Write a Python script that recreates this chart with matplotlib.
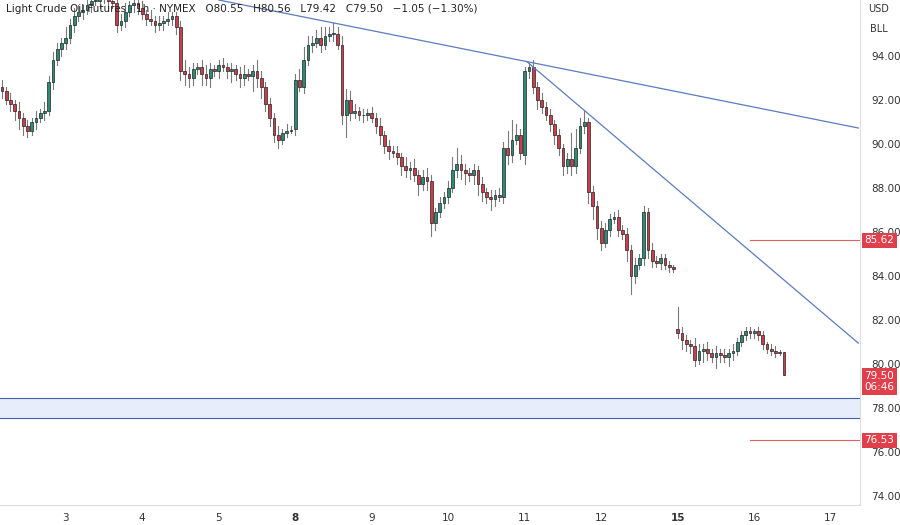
import matplotlib
matplotlib.use("Agg")
import matplotlib.pyplot as plt
from matplotlib.patches import Rectangle

day_labels = ["", "3", "4", "5", "8", "9", "10", "11", "12", "15", "16"]
closes = [
    [92.4, 92.0, 91.8, 91.5, 91.2, 90.8, 90.6, 91.0, 91.2, 91.4, 91.5, 92.8, 93.8, 94.3, 94.6],
    [94.8, 95.4, 95.8, 96.0, 96.1, 96.3, 96.5, 96.5, 96.6, 96.8, 96.5, 96.4, 95.4, 95.6, 96.0, 96.3, 96.4, 96.2],
    [95.9, 95.7, 95.6, 95.4, 95.5, 95.6, 95.7, 95.8, 95.3, 93.3, 93.2, 93.0, 93.4, 93.5, 93.2, 93.0, 93.4, 93.3],
    [93.6, 93.5, 93.3, 93.4, 93.2, 93.0, 93.2, 93.1, 93.3, 93.0, 92.6, 91.8, 91.2, 90.4, 90.2, 90.5, 90.6, 90.6],
    [92.9, 92.6, 93.8, 94.5, 94.6, 94.8, 94.5, 94.9, 95.0, 95.0, 94.5, 91.3, 92.0, 91.4, 91.5, 91.3, 91.3, 91.4],
    [91.2, 90.8, 90.4, 89.9, 89.7, 89.6, 89.4, 89.0, 88.8, 88.9, 88.6, 88.2, 88.5, 88.3, 86.4, 86.9, 87.3, 87.6],
    [88.0, 88.8, 89.1, 88.8, 88.7, 88.6, 88.8, 88.2, 87.8, 87.6, 87.5, 87.7, 87.6, 89.8, 89.5, 90.2, 90.4, 89.6],
    [93.3, 93.5, 92.6, 92.0, 91.7, 91.3, 90.9, 90.4, 89.8, 89.0, 89.3, 89.0, 89.8, 90.8, 91.0, 87.8, 87.2, 86.2],
    [85.5, 86.1, 86.6, 86.7, 86.1, 85.9, 85.2, 84.0, 84.5, 84.8, 86.9, 85.2, 84.7, 84.6, 84.8, 84.5, 84.4, 84.3],
    [81.4, 81.1, 80.9, 80.8, 80.2, 80.6, 80.7, 80.5, 80.3, 80.5, 80.4, 80.3, 80.5, 80.6, 81.0, 81.3, 81.5, 81.4],
    [81.5, 81.3, 80.9, 80.7, 80.6, 80.5, 80.55, 79.50],
]
first_open = [92.6, None, None, None, 90.7, None, None, 89.5, None, 81.6, None]
hi_ext = [
    [0.3, 0.2, 0.3, 0.2, 0.4, 0.2, 0.3, 0.2, 0.3, 0.2, 0.4, 0.3, 0.4, 0.3, 0.2],
    [0.5, 0.3, 0.4, 0.3, 0.2, 0.3, 0.2, 0.3, 0.4, 0.3, 0.2, 0.3, 0.2, 0.3, 0.4, 0.2, 0.3, 0.2],
    [0.3, 0.2, 0.4, 0.2, 0.3, 0.2, 0.3, 0.2, 0.2, 0.3, 0.5, 0.3, 0.3, 0.2, 0.3, 0.4, 0.3, 0.2],
    [0.2, 0.3, 0.2, 0.3, 0.2, 0.3, 0.4, 0.2, 0.3, 0.5, 0.3, 0.2, 0.3, 0.2, 0.4, 0.2, 0.3, 0.2],
    [0.3, 0.5, 0.6, 0.4, 0.3, 0.4, 0.5, 0.4, 0.3, 0.5, 0.3, 0.4, 0.5, 0.4, 0.3, 0.2, 0.3, 0.2],
    [0.3, 0.2, 0.4, 0.2, 0.3, 0.2, 0.3, 0.2, 0.4, 0.3, 0.4, 0.2, 0.3, 0.4, 0.3, 0.2, 0.3, 0.2],
    [0.3, 0.6, 0.7, 0.4, 0.3, 0.2, 0.3, 0.2, 0.3, 0.2, 0.3, 0.2, 0.3, 0.3, 0.8, 0.9, 0.5, 0.3],
    [0.2, 0.2, 0.3, 0.2, 0.3, 0.2, 0.3, 0.2, 0.3, 0.2, 0.3, 1.2, 0.9, 0.4, 0.5, 0.2, 0.3, 0.2],
    [0.3, 0.3, 0.2, 0.2, 0.3, 0.2, 0.3, 0.2, 0.3, 0.2, 0.3, 0.2, 0.3, 0.2, 0.2, 0.2, 0.2, 0.1],
    [1.0, 0.3, 0.2, 0.2, 0.4, 0.3, 0.2, 0.3, 0.2, 0.3, 0.2, 0.3, 0.2, 0.3, 0.2, 0.2, 0.2, 0.2],
    [0.1, 0.2, 0.2, 0.1, 0.2, 0.2, 0.1, 0.01],
]
lo_ext = [
    [0.3, 0.2, 0.3, 0.4, 0.5, 0.4, 0.3, 0.2, 0.3, 0.2, 0.3, 0.2, 0.3, 0.2, 0.3],
    [0.3, 0.2, 0.3, 0.2, 0.3, 0.2, 0.3, 0.2, 0.3, 0.2, 0.3, 0.2, 0.3, 0.2, 0.3, 0.2, 0.3, 0.3],
    [0.2, 0.3, 0.2, 0.3, 0.2, 0.3, 0.2, 0.3, 0.3, 0.4, 0.5, 0.4, 0.3, 0.2, 0.5, 0.3, 0.4, 0.2],
    [0.3, 0.2, 0.3, 0.5, 0.3, 0.4, 0.3, 0.2, 0.7, 0.4, 0.5, 0.3, 0.4, 0.3, 0.4, 0.2, 0.2, 0.1],
    [0.3, 0.2, 0.3, 0.2, 0.3, 0.2, 0.3, 0.2, 0.2, 0.3, 0.2, 0.4, 1.0, 0.3, 0.2, 0.2, 0.3, 0.2],
    [0.2, 0.3, 0.4, 0.3, 0.4, 0.2, 0.3, 0.4, 0.3, 0.4, 0.3, 0.5, 0.3, 0.4, 0.6, 0.3, 0.2, 0.2],
    [0.3, 0.2, 0.3, 0.4, 0.5, 0.3, 0.4, 0.5, 0.4, 0.3, 0.5, 0.3, 0.2, 0.3, 0.4, 0.3, 0.2, 0.3],
    [0.4, 0.3, 0.3, 0.4, 0.3, 0.2, 0.3, 0.4, 0.3, 0.4, 0.3, 0.4, 0.3, 0.2, 0.3, 0.5, 0.6, 0.5],
    [0.3, 0.2, 0.3, 0.2, 0.3, 0.2, 0.5, 0.8, 0.3, 0.2, 0.3, 0.4, 0.3, 0.2, 0.3, 0.2, 0.2, 0.1],
    [0.2, 0.4, 0.3, 0.3, 0.3, 0.2, 0.5, 0.3, 0.2, 0.5, 0.3, 0.2, 0.4, 0.3, 0.2, 0.2, 0.2, 0.2],
    [0.2, 0.2, 0.2, 0.2, 0.2, 0.2, 0.1, 0.0],
]
y_ticks = [74, 76, 78, 80, 82, 84, 86, 88, 90, 92, 94]
resistance = 85.62
support = 76.53
zone = (77.55, 78.45)
last_price = 79.50
trend1 = [(51, 96.55), (123.5, 93.75), (201.5, 90.73)]
trend2 = [(123.5, 93.75), (201.5, 80.95)]

UP, DN = "#2a8c77", "#cc3d4b"
fig = plt.figure(figsize=(9, 5.25), dpi=100)
ax = fig.add_axes([0, 20 / 525, 860 / 900, 505 / 525])

idx = 0
prev = None
day_starts = []
for d, (cl, he, le) in enumerate(zip(closes, hi_ext, lo_ext)):
    day_starts.append(idx)
    for k, c in enumerate(cl):
        o = first_open[d] if (k == 0 and first_open[d] is not None) else (prev if prev is not None else c)
        hi = max(o, c) + he[k]
        lo = min(o, c) - le[k]
        col = UP if c >= o else DN
        ax.plot([idx, idx], [lo, hi], color="#7a7a7a", lw=0.8, zorder=2)
        h = max(abs(c - o), 0.04)
        ax.add_patch(Rectangle((idx - 0.33, min(o, c)), 0.66, h, facecolor=col,
                               edgecolor="#222222", lw=0.5, zorder=3))
        prev = c
        idx += 1

ax.plot(*zip(*trend1), color="#5b7cc0", lw=0.9, zorder=4)
ax.plot(*zip(*trend2), color="#5b7cc0", lw=0.9, zorder=4)
ax.axhspan(zone[0], zone[1], facecolor="#e8edfb", edgecolor="none", zorder=1)
ax.axhline(zone[0], color="#4060b0", lw=0.8)
ax.axhline(zone[1], color="#4060b0", lw=0.8)
ax.plot([176, 202], [resistance] * 2, color="#e06060", lw=0.8)
ax.plot([176, 202], [support] * 2, color="#e06060", lw=0.8)

ax.set_xlim(-0.47, 201.9)
ax.set_ylim(73.59, 96.55)
ax.yaxis.tick_right()
ax.set_yticks(y_ticks)
ax.set_yticklabels([f"{v:.2f}" for v in y_ticks], fontsize=7.5, color="#333333")
ax.tick_params(axis="y", length=0, pad=8)
ticks = day_starts[1:] + [day_starts[-1] + 18]
labels = day_labels[1:] + ["17"]
ax.set_xticks(ticks)
ax.set_xticklabels(labels, fontsize=7.5, color="#333333")
for t in ax.get_xticklabels():
    if t.get_text() in ("8", "15"):
        t.set_fontweight("bold")
ax.tick_params(axis="x", length=0, pad=6)
for s in ["top", "left"]:
    ax.spines[s].set_visible(False)
ax.spines["right"].set_color("#dddddd")
ax.spines["bottom"].set_color("#dddddd")

def tag(y, txt):
    ax.text(1.005, y, txt, transform=ax.get_yaxis_transform(), fontsize=7.5, color="white",
            va="center", ha="left", clip_on=False, zorder=6,
            bbox=dict(boxstyle="square,pad=0.25", fc="#e0404c", ec="none"))

tag(resistance, "85.62")
tag(support, "76.53")
tag(last_price - 0.3, "79.50\n06:46")
fig.text(868 / 900, 1 - 9 / 525, "USD", fontsize=7, color="#333333", va="center")
fig.text(870 / 900, 1 - 29 / 525, "BLL", fontsize=7, color="#333333", va="center")
fig.text(6 / 900, 1 - 9 / 525,
         "Light Crude Oil Futures · 1h · NYMEX   O80.55   H80.56   L79.42   C79.50   −1.05 (−1.30%)",
         fontsize=7.5, color="#222222", va="center")
fig.savefig("out.png", dpi=100, facecolor="white")
